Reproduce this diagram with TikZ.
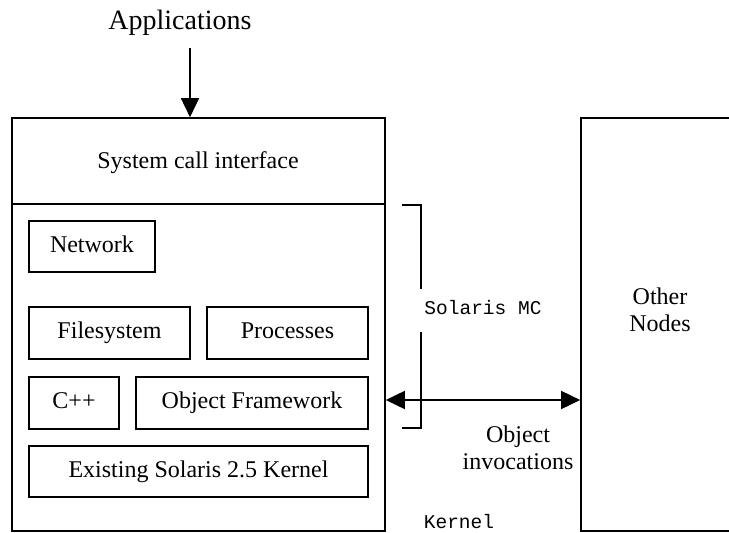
\documentclass[tikz,border=0pt]{standalone}
\usepackage{fontspec}
\setmainfont{Liberation Serif}
\setmonofont{Liberation Mono}
\usetikzlibrary{arrows.meta}
\begin{document}
\begin{tikzpicture}[x=1pt,y=-1pt,
  line width=1.6pt,
  box/.style={draw,line width=1.6pt,inner sep=0pt,text height=16pt,text depth=5pt,font=\fontsize{24}{27}\selectfont},
  lbl/.style={inner sep=0pt,font=\fontsize{24}{27}\selectfont,align=center},
  mono/.style={inner sep=0pt,font=\ttfamily\fontsize{19.5}{22}\selectfont},
  tip/.style={-{Triangle[length=19pt,width=18pt]}},
  dtip/.style={{Triangle[length=19pt,width=18pt]}-{Triangle[length=19pt,width=18pt]}}]
\useasboundingbox (0,0) rectangle (729,533);
\clip (0,0) rectangle (729,533);
% main kernel box
\node[draw,inner sep=0pt,minimum width=373pt,minimum height=413pt] (main) at (198.5,324.5) {};
\coordinate (divL) at (12,204);
\draw (divL) -- (divL -| main.east);
\node[lbl] (sci) at (198,163) {System call interface};
% inner boxes
\node[box,minimum width=126pt,minimum height=51pt] (net) at (92,246.5) {Network};
\node[box,minimum width=161pt,minimum height=52pt] (fs) at (109.5,333) {Filesystem};
\node[box,minimum width=161pt,minimum height=52pt] (proc) at (287.5,333) {Processes};
\node[box,minimum width=90pt,minimum height=52pt] (cpp) at (74,403) {C++};
\node[box,minimum width=232pt,minimum height=52pt] (ofw) at (252,403) {Object Framework};
\node[box,minimum width=339pt,minimum height=51pt] (exist) at (198.5,471.5) {Existing Solaris 2.5 Kernel};
% other nodes box (runs off the right edge)
\node[draw,inner sep=0pt,minimum width=170pt,minimum height=413pt] (other) at (666,324.5) {};
\node[lbl] (othertxt) at (660,310) {Other\\Nodes};
% applications
\node[lbl,font=\fontsize{28}{32}\selectfont] (apps) at (180,23) {Applications};
\coordinate (atop) at (190,48);
\draw[tip] (atop) -- (atop |- main.north);
% object invocation arrow
\coordinate (arr) at (0,400);
\draw[dtip] (main.east |- arr) -- (other.west |- arr);
\node[lbl] (objinv) at (518,448) {Object\\invocations};
% Solaris MC bracket
\coordinate (b1) at (402,205);
\coordinate (b2) at (421,205);
\coordinate (b3) at (421,289);
\coordinate (b4) at (421,332);
\coordinate (b5) at (421,428);
\coordinate (b6) at (402,428);
\draw (b1) -- (b2) -- (b3);
\draw (b4) -- (b5) -- (b6);
\node[mono] (smc) at (483,308) {Solaris MC};
\node[mono] (kern) at (459,522) {Kernel};
\end{tikzpicture}
\end{document}
